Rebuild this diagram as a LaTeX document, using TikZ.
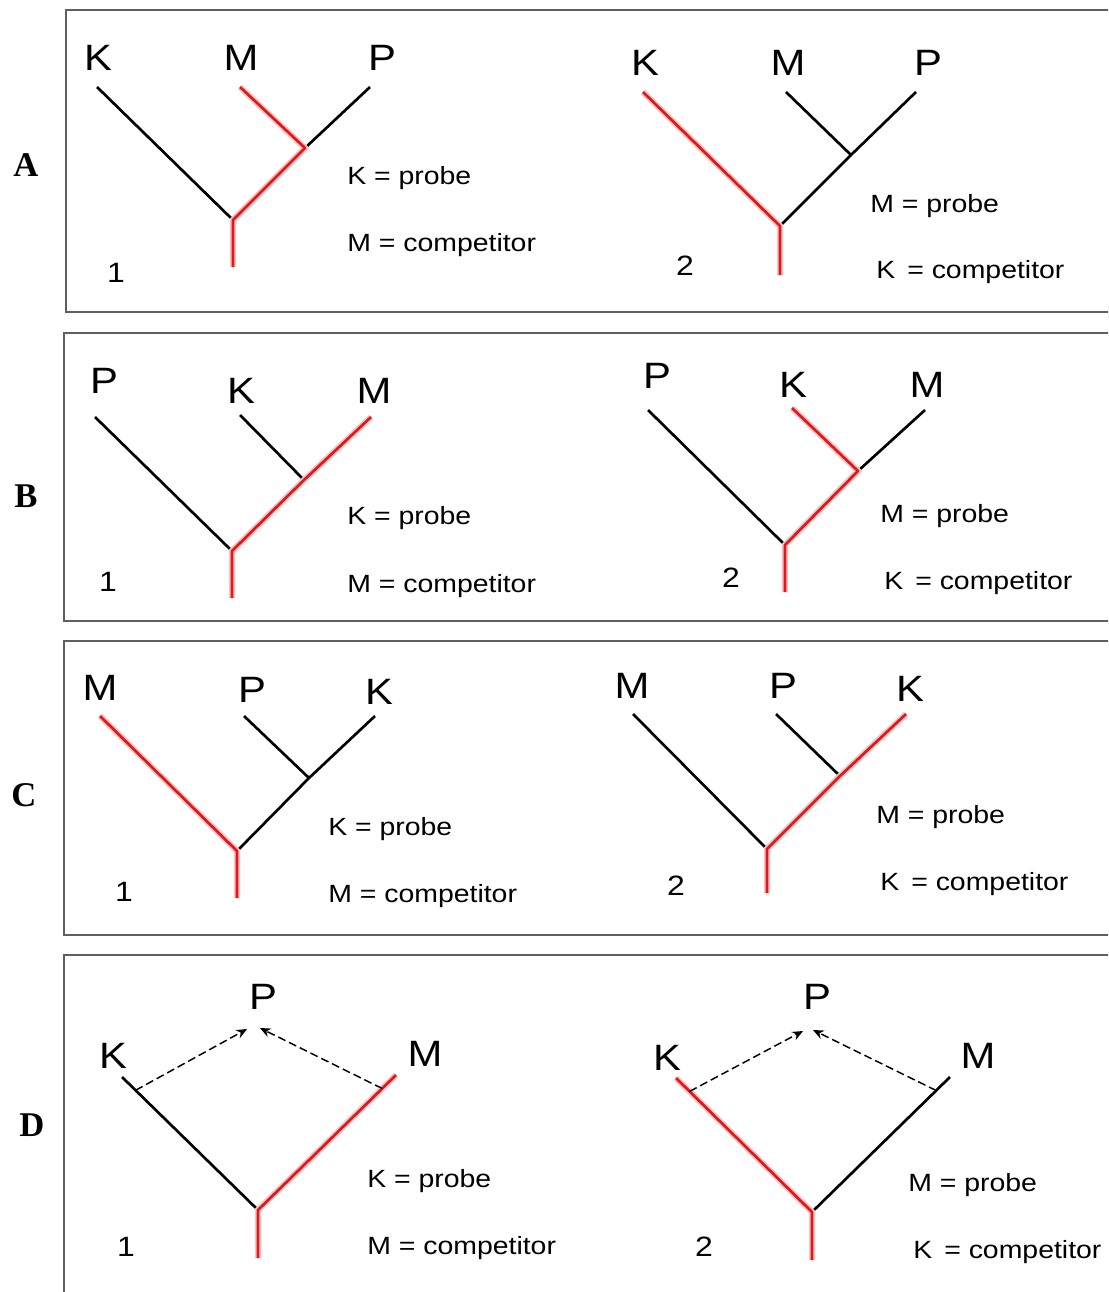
\documentclass[tikz,border=0pt]{standalone}
\usepackage{fontspec}
\setmainfont[FakeStretch=1.14]{Liberation Sans}
\newfontfamily\rowfont{Liberation Serif}
\usepackage{tikz}
\usetikzlibrary{arrows.meta,positioning,calc}
\definecolor{hitred}{RGB}{222,24,28}
\definecolor{glowred}{RGB}{250,196,196}
\definecolor{boxgray}{RGB}{95,95,95}
\tikzset{
  panelbox/.style={draw=boxgray,line width=1.3pt},
  branch/.style={draw=black,line width=2pt,line join=round},
  hit/.style={draw=hitred,line width=2pt,line join=round,
    preaction={draw=glowred,line width=4.6pt}},
  taxon/.style={font=\fontsize{27.5}{30}\selectfont,inner sep=0pt},
  legend/.style={font=\fontsize{18.7}{22}\selectfont,anchor=base west,inner sep=0pt},
  treeno/.style={font=\fontsize{21}{24}\selectfont,inner sep=0pt},
  rowlabel/.style={font=\fontsize{26}{28}\selectfont\rowfont\bfseries,inner sep=0pt},
  transfer/.style={-{Stealth[length=2.8mm,width=2.4mm]},
    dash pattern=on 6pt off 3pt,line width=1.1pt}
}

\begin{document}
\begin{tikzpicture}[x=0.75pt,y=-0.75pt]
  \useasboundingbox (0,0) rectangle (1108,1292);
  \clip (0,0) rectangle (1108,1292);
  \fill[white] (0,0) rectangle (1108,1292);

  % panel frames, cut off at the right edge
  \draw[panelbox] (66,10)  rectangle (1125,312);
  \draw[panelbox] (64,333) rectangle (1125,621);
  \draw[panelbox] (64,641) rectangle (1125,935);
  \draw[panelbox] (64,955) rectangle (1125,1310);

  \node[rowlabel] (rowA) at (26,165)  {A};
  \node[rowlabel] (rowB) at (26,496)  {B};
  \node[rowlabel] (rowC) at (24,795)  {C};
  \node[rowlabel] (rowD) at (32,1125) {D};

  % ---- A1
  \coordinate (a1r) at (233,220); \coordinate (a1s) at (233,267);
  \coordinate (a1i) at (305,148);
  \coordinate (a1k) at (97,87); \coordinate (a1m) at (240,87); \coordinate (a1p) at (370,87);
  \node[taxon] (a1K) at (98,58)  {K};
  \node[taxon] (a1M) at (241,58) {M};
  \node[taxon] (a1P) at (382,58) {P};
  \draw[branch] (a1k) -- (a1r);
  \draw[branch] (a1p) -- (a1i);
  \draw[hit] (a1m) -- (a1i) -- (a1r) -- (a1s);
  \node[treeno] (a1n) at (116,273) {1};
  \node[legend] (a1a) at (347,184) {K = probe};
  \node[legend] (a1b) at (347,251) {M = competitor};

  % ---- A2
  \coordinate (a2r) at (780,226); \coordinate (a2s) at (780,275);
  \coordinate (a2i) at (851,155);
  \coordinate (a2k) at (643,92); \coordinate (a2m) at (786,92); \coordinate (a2p) at (916,92);
  \node[taxon] (a2K) at (645,63) {K};
  \node[taxon] (a2M) at (788,63) {M};
  \node[taxon] (a2P) at (928,63) {P};
  \draw[branch] (a2m) -- (a2i);
  \draw[branch] (a2p) -- (a2i) -- (a2r);
  \draw[hit] (a2k) -- (a2r) -- (a2s);
  \node[treeno] (a2n) at (685,266) {2};
  \node[legend] (a2a) at (870,212) {M = probe};
  \node[legend] (a2b) at (876,278) {K \,= competitor};

  % ---- B1
  \coordinate (b1r) at (232,551); \coordinate (b1s) at (232,598);
  \coordinate (b1i) at (304,480);
  \coordinate (b1p) at (95,417); \coordinate (b1k) at (240,415); \coordinate (b1m) at (371,417);
  \node[taxon] (b1P) at (104,381) {P};
  \node[taxon] (b1K) at (241,391) {K};
  \node[taxon] (b1M) at (374,391) {M};
  \draw[branch] (b1p) -- (b1r);
  \draw[branch] (b1k) -- (b1i);
  \draw[hit] (b1m) -- (b1i) -- (b1r) -- (b1s);
  \node[treeno] (b1n) at (108,582) {1};
  \node[legend] (b1a) at (347,524) {K = probe};
  \node[legend] (b1b) at (347,592) {M = competitor};

  % ---- B2
  \coordinate (b2r) at (785,545); \coordinate (b2s) at (785,592);
  \coordinate (b2i) at (858,471);
  \coordinate (b2p) at (648,410); \coordinate (b2k) at (792,408); \coordinate (b2m) at (925,410);
  \node[taxon] (b2P) at (657,376) {P};
  \node[taxon] (b2K) at (793,385) {K};
  \node[taxon] (b2M) at (927,385) {M};
  \draw[branch] (b2p) -- (b2r);
  \draw[branch] (b2m) -- (b2i);
  \draw[hit] (b2k) -- (b2i) -- (b2r) -- (b2s);
  \node[treeno] (b2n) at (731,578) {2};
  \node[legend] (b2a) at (880,522) {M = probe};
  \node[legend] (b2b) at (884,589) {K \,= competitor};

  % ---- C1
  \coordinate (c1r) at (237,851); \coordinate (c1s) at (237,898);
  \coordinate (c1i) at (309,778);
  \coordinate (c1m) at (100,716); \coordinate (c1p) at (244,716); \coordinate (c1k) at (375,716);
  \node[taxon] (c1M) at (100,688) {M};
  \node[taxon] (c1P) at (252,690) {P};
  \node[taxon] (c1K) at (379,692) {K};
  \draw[branch] (c1p) -- (c1i);
  \draw[branch] (c1k) -- (c1i) -- (c1r);
  \draw[hit] (c1m) -- (c1r) -- (c1s);
  \node[treeno] (c1n) at (124,892) {1};
  \node[legend] (c1a) at (328,835) {K = probe};
  \node[legend] (c1b) at (328,902) {M = competitor};

  % ---- C2
  \coordinate (c2r) at (767,849); \coordinate (c2s) at (767,893);
  \coordinate (c2i) at (840,776);
  \coordinate (c2m) at (633,714); \coordinate (c2p) at (776,714); \coordinate (c2k) at (906,714);
  \node[taxon] (c2M) at (632,686) {M};
  \node[taxon] (c2P) at (783,686) {P};
  \node[taxon] (c2K) at (910,689) {K};
  \draw[branch] (c2m) -- (c2r);
  \draw[branch] (c2p) -- (c2i);
  \draw[hit] (c2k) -- (c2i) -- (c2r) -- (c2s);
  \node[treeno] (c2n) at (676,886) {2};
  \node[legend] (c2a) at (876,823) {M = probe};
  \node[legend] (c2b) at (880,890) {K \,= competitor};

  % ---- D1
  \coordinate (d1r) at (258,1210); \coordinate (d1s) at (258,1258);
  \coordinate (d1k) at (122,1077); \coordinate (d1m) at (396,1075);
  \coordinate (d1to) at (247,1029); \coordinate (d1from) at (260,1028);
  \node[taxon] (d1P) at (263,997)  {P};
  \node[taxon] (d1K) at (113,1056) {K};
  \node[taxon] (d1M) at (425,1054) {M};
  \draw[branch] (d1k) -- (d1r);
  \draw[hit] (d1m) -- (d1r) -- (d1s);
  \draw[transfer] ($(d1k)!0.1!(d1r)$) -- (d1to);
  \draw[transfer] ($(d1m)!0.1!(d1r)$) -- (d1from);
  \node[treeno] (d1n) at (126,1247) {1};
  \node[legend] (d1a) at (367,1187) {K = probe};
  \node[legend] (d1b) at (367,1254) {M = competitor};

  % ---- D2
  \coordinate (d2r) at (812,1212); \coordinate (d2s) at (812,1260);
  \coordinate (d2k) at (676,1078); \coordinate (d2m) at (950,1077);
  \coordinate (d2to) at (803,1031); \coordinate (d2from) at (813,1030);
  \node[taxon] (d2P) at (817,997)  {P};
  \node[taxon] (d2K) at (667,1058) {K};
  \node[taxon] (d2M) at (978,1056) {M};
  \draw[branch] (d2m) -- (d2r);
  \draw[hit] (d2k) -- (d2r) -- (d2s);
  \draw[transfer] ($(d2k)!0.1!(d2r)$) -- (d2to);
  \draw[transfer] ($(d2m)!0.1!(d2r)$) -- (d2from);
  \node[treeno] (d2n) at (704,1247) {2};
  \node[legend] (d2a) at (908,1191) {M = probe};
  \node[legend] (d2b) at (913,1258) {K \,= competitor};
\end{tikzpicture}
\end{document}
